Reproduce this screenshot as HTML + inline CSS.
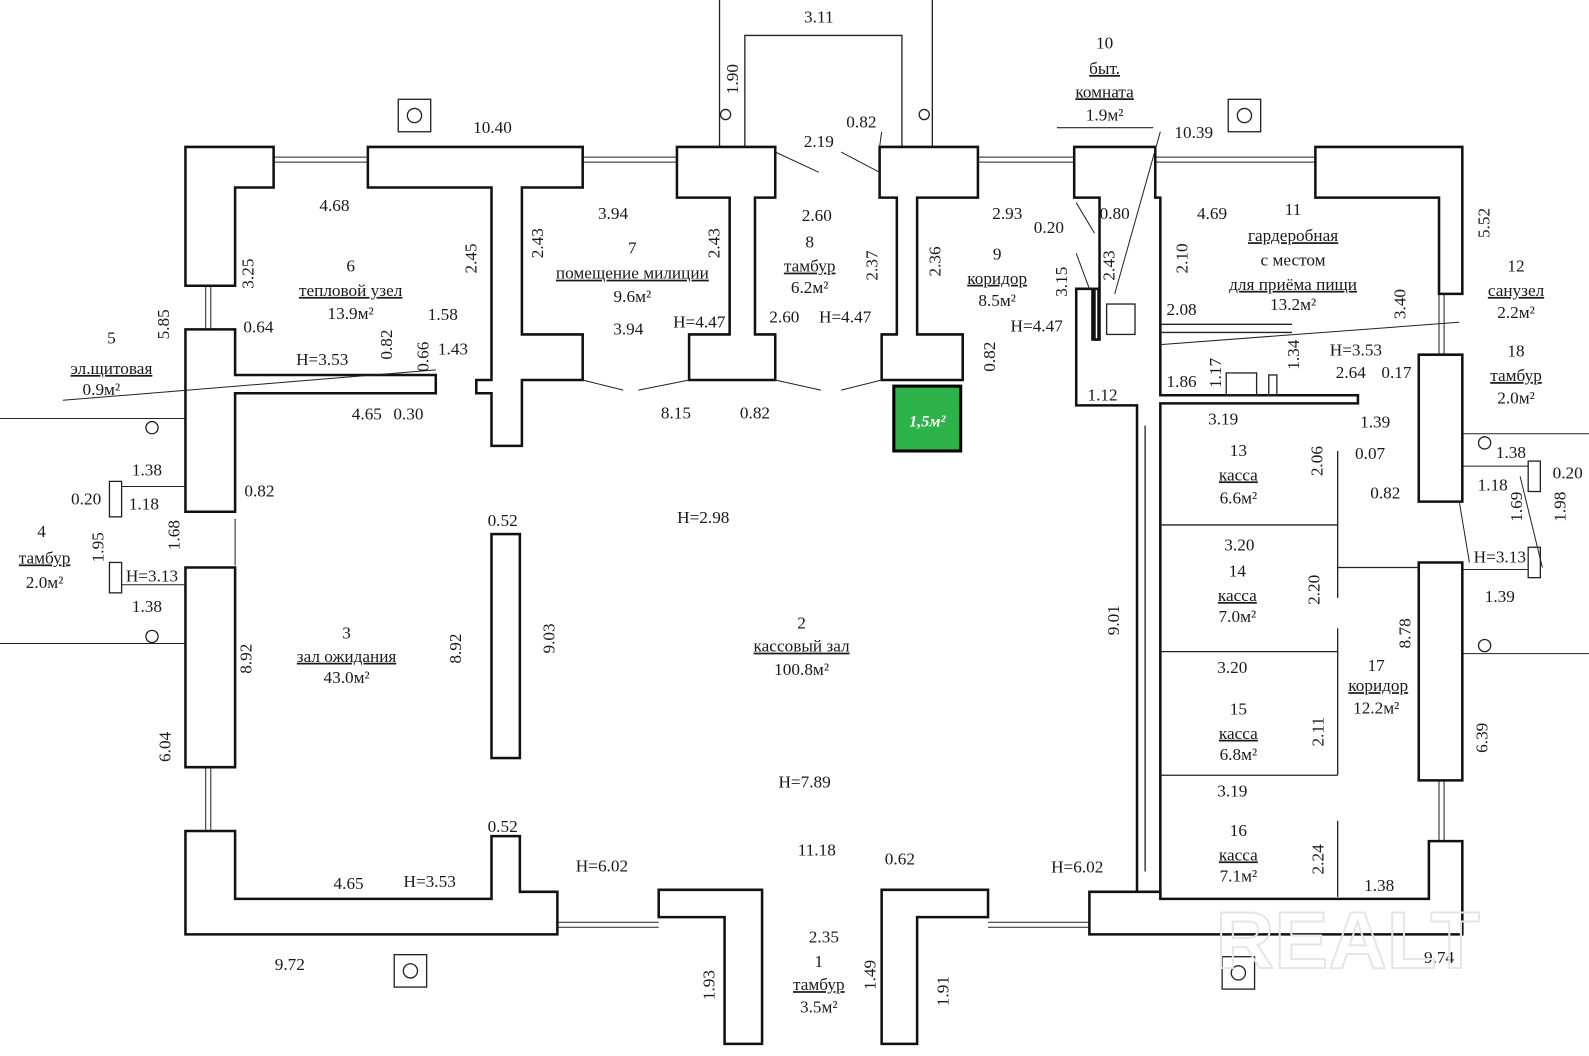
<!DOCTYPE html>
<html><head><meta charset="utf-8"><style>
html,body{margin:0;padding:0;background:#fff;}
svg{display:block;}
text{font-family:"Liberation Serif",serif;font-size:17px;fill:#1a1a1a;}
.m{text-anchor:middle;}
.u{text-decoration:underline;}
.w{fill:#fff;stroke:#111;stroke-width:2.5;stroke-linejoin:miter;}
.l{stroke:#222;stroke-width:1.3;fill:none;}
.t{stroke:#222;stroke-width:1;fill:none;}
</style></head><body>
<svg width="1589" height="1056" viewBox="0 0 1568 1042" preserveAspectRatio="none" xmlns="http://www.w3.org/2000/svg">
<rect width="1568" height="1042" fill="#fff"/>
<line class="t" x1="0" y1="413" x2="183" y2="413"/><line class="t" x1="0" y1="635" x2="183" y2="635"/>
<line class="t" x1="1443" y1="428" x2="1568" y2="428"/><line class="t" x1="1443" y1="645" x2="1568" y2="645"/>
<circle class="l" cx="150" cy="422" r="6"/><circle class="l" cx="150" cy="628" r="6"/>
<circle class="l" cx="1465" cy="437" r="6"/><circle class="l" cx="1465" cy="637" r="6"/>
<line class="l" x1="710" y1="0" x2="710" y2="145"/><line class="l" x1="920" y1="0" x2="920" y2="145"/>
<polyline class="l" points="735,145 735,35 890,35 890,145"/>
<circle class="l" cx="716" cy="113" r="5"/><circle class="l" cx="912" cy="113" r="5"/>
<g class="t">
<line x1="270" y1="155" x2="363" y2="155"/><line x1="270" y1="160" x2="363" y2="160"/>
<line x1="575" y1="155" x2="668" y2="155"/><line x1="575" y1="160" x2="668" y2="160"/>
<line x1="965" y1="155" x2="1060" y2="155"/><line x1="965" y1="160" x2="1060" y2="160"/>
<line x1="1140" y1="155" x2="1298" y2="155"/><line x1="1140" y1="160" x2="1298" y2="160"/>
<line x1="550" y1="915" x2="650" y2="915"/><line x1="550" y1="910" x2="650" y2="910"/>
<line x1="975" y1="915" x2="1075" y2="915"/><line x1="975" y1="910" x2="1075" y2="910"/>
<line x1="203" y1="282" x2="203" y2="325"/><line x1="208" y1="282" x2="208" y2="325"/>
<line x1="203" y1="757" x2="203" y2="820"/><line x1="208" y1="757" x2="208" y2="820"/>
<line x1="1420" y1="290" x2="1420" y2="350"/><line x1="1425" y1="290" x2="1425" y2="350"/>
<line x1="1420" y1="770" x2="1420" y2="830"/><line x1="1425" y1="770" x2="1425" y2="830"/>
<line x1="1440" y1="495" x2="1450" y2="555"/>
</g>
<polygon class="w" points="183,145 270,145 270,185 232,185 232,282 183,282"/>
<polygon class="w" points="183,325 232,325 232,370 430,370 430,388 232,388 232,505 183,505"/>
<polygon class="w" points="183,560 232,560 232,757 183,757"/>
<polygon class="w" points="183,820 232,820 232,887 485,887 485,825 513,825 513,880 550,880 550,922 183,922"/>
<polygon class="w" points="363,145 575,145 575,185 515,185 515,330 575,330 575,375 515,375 515,440 485,440 485,388 470,388 470,375 485,375 485,185 363,185"/>
<polygon class="w" points="668,145 765,145 765,195 745,195 745,330 765,330 765,375 680,375 680,330 720,330 720,195 668,195"/>
<polygon class="w" points="868,145 965,145 965,195 905,195 905,330 950,330 950,375 870,375 870,330 885,330 885,195 868,195"/>
<polygon class="w" points="1060,145 1140,145 1140,195 1145,195 1145,390 1340,390 1340,398 1145,398 1145,885 1122,885 1122,400 1062,400 1062,285 1078,285 1078,335 1085,335 1085,195 1060,195"/>
<polygon class="w" points="1298,145 1443,145 1443,290 1420,290 1420,195 1298,195"/>
<polygon class="w" points="1400,350 1443,350 1443,495 1400,495"/>
<polygon class="w" points="1400,555 1443,555 1443,770 1400,770"/>
<polygon class="w" points="1075,880 1145,880 1145,887 1410,887 1410,830 1443,830 1443,922 1075,922"/>
<polygon class="w" points="650,878 752,878 752,1030 715,1030 715,905 650,905"/>
<polygon class="w" points="870,878 975,878 975,905 905,905 905,1030 870,1030"/>
<rect class="w" x="485" y="527" width="28" height="221"/>
<rect class="w" x="1080" y="285" width="4" height="50"/>
<g class="l" stroke-width="2">
<line x1="1145" y1="518" x2="1320" y2="518"/><line x1="1145" y1="643" x2="1320" y2="643"/><line x1="1145" y1="765" x2="1320" y2="765"/>
<line x1="1320" y1="445" x2="1320" y2="590"/><line x1="1320" y1="620" x2="1320" y2="765"/><line x1="1320" y1="810" x2="1320" y2="885"/>
<line x1="1320" y1="560" x2="1400" y2="560"/>
<line x1="1130" y1="420" x2="1130" y2="860"/>
</g>
<rect class="l" x="1210" y="368" width="30" height="22"/><rect class="l" x="1252" y="370" width="8" height="20"/>
<rect class="l" x="1092" y="300" width="28" height="30"/>
<line class="l" x1="1145" y1="320" x2="1275" y2="320"/><line class="l" x1="1145" y1="328" x2="1275" y2="328"/>
<rect class="l" x="108" y="475" width="12" height="35"/><rect class="l" x="108" y="555" width="12" height="30"/>
<rect class="l" x="1508" y="455" width="12" height="30"/><rect class="l" x="1508" y="540" width="12" height="30"/>
<line class="t" x1="120" y1="480" x2="183" y2="480"/><line class="t" x1="120" y1="577" x2="183" y2="577"/>
<line class="t" x1="1443" y1="460" x2="1508" y2="460"/><line class="t" x1="1443" y1="562" x2="1508" y2="562"/>
<g class="l" stroke-width="2"><rect x="393" y="98" width="32" height="32"/><circle cx="409" cy="114" r="7"/>
<rect x="1212" y="98" width="32" height="32"/><circle cx="1228" cy="114" r="7"/>
<rect x="389" y="942" width="32" height="32"/><circle cx="405" cy="958" r="7"/>
<rect x="1206" y="944" width="32" height="32"/><circle cx="1222" cy="960" r="7"/></g>
<g class="t">
<line x1="62" y1="395" x2="430" y2="365"/><line x1="1145" y1="340" x2="1440" y2="318"/>
<line x1="1145" y1="130" x2="1100" y2="290"/><line x1="575" y1="375" x2="615" y2="385"/><line x1="630" y1="385" x2="680" y2="375"/>
<line x1="765" y1="150" x2="808" y2="170"/><line x1="830" y1="150" x2="868" y2="170"/>
<line x1="765" y1="375" x2="810" y2="385"/><line x1="830" y1="385" x2="870" y2="375"/>
<line x1="1062" y1="200" x2="1080" y2="230"/><line x1="1062" y1="250" x2="1075" y2="285"/>
<line x1="232" y1="512" x2="232" y2="558"/><line x1="1500" y1="470" x2="1522" y2="560"/>
<line x1="870" y1="130" x2="868" y2="145"/>
</g>
<line class="t" x1="1043" y1="126" x2="1138" y2="126"/>
<rect x="882" y="381" width="66" height="64" fill="#2db34a" stroke="#000" stroke-width="3"/>
<text x="915" y="421" class="m" style="font-style:italic;font-weight:bold;fill:#fff;font-size:16px">1,5м²</text>
<g>
<text x="808" y="22" class="m">3.11</text>
<text x="486" y="131" class="m">10.40</text>
<text x="850" y="126" class="m">0.82</text>
<text x="808" y="145" class="m">2.19</text>
<text x="1090" y="48" class="m">10</text><text x="1090" y="73" class="m u">быт.</text><text x="1090" y="96" class="m u">комната</text><text x="1090" y="119" class="m">1.9м²</text>
<text x="1178" y="136" class="m">10.39</text>
<text x="330" y="208" class="m">4.68</text>
<text x="605" y="216" class="m">3.94</text>
<text x="806" y="218" class="m">2.60</text>
<text x="994" y="216" class="m">2.93</text>
<text x="1035" y="230" class="m">0.20</text><text x="1100" y="216" class="m">0.80</text>
<text x="1196" y="216" class="m">4.69</text><text x="1276" y="212" class="m">11</text>
<text x="1276" y="238" class="m u">гардеробная</text><text x="1276" y="262" class="m">с местом</text><text x="1276" y="286" class="m u">для приёма пищи</text><text x="1276" y="306" class="m">13.2м²</text>
<text x="346" y="268" class="m">6</text><text x="346" y="292" class="m u">тепловой узел</text><text x="346" y="315" class="m">13.9м²</text>
<text x="624" y="250" class="m">7</text><text x="624" y="275" class="m u">помещение милиции</text><text x="624" y="298" class="m">9.6м²</text>
<text x="799" y="244" class="m">8</text><text x="799" y="268" class="m u">тамбур</text><text x="799" y="289" class="m">6.2м²</text>
<text x="984" y="256" class="m">9</text><text x="984" y="280" class="m u">коридор</text><text x="984" y="302" class="m">8.5м²</text>
<text x="1496" y="268" class="m">12</text><text x="1496" y="292" class="m u">санузел</text><text x="1496" y="314" class="m">2.2м²</text>
<text x="1496" y="352" class="m">18</text><text x="1496" y="376" class="m u">тамбур</text><text x="1496" y="398" class="m">2.0м²</text>
<text x="255" y="328" class="m">0.64</text><text x="437" y="316" class="m">1.58</text><text x="447" y="350" class="m">1.43</text>
<text x="318" y="360" class="m">H=3.53</text>
<text x="110" y="339" class="m">5</text><text x="110" y="369" class="m u">эл.щитовая</text><text x="100" y="390" class="m">0.9м²</text>
<text x="362" y="414" class="m">4.65</text><text x="403" y="414" class="m">0.30</text>
<text x="620" y="330" class="m">3.94</text><text x="690" y="323" class="m">H=4.47</text>
<text x="774" y="318" class="m">2.60</text><text x="834" y="318" class="m">H=4.47</text>
<text x="1023" y="327" class="m">H=4.47</text>
<text x="1166" y="311" class="m">2.08</text><text x="1166" y="382" class="m">1.86</text>
<text x="1338" y="351" class="m">H=3.53</text><text x="1333" y="373" class="m">2.64</text><text x="1378" y="373" class="m">0.17</text>
<text x="1088" y="395" class="m">1.12</text>
<text x="667" y="413" class="m">8.15</text><text x="745" y="413" class="m">0.82</text>
<text x="1207" y="419" class="m">3.19</text><text x="1357" y="422" class="m">1.39</text>
<text x="1222" y="450" class="m">13</text><text x="1222" y="474" class="m u">касса</text><text x="1222" y="497" class="m">6.6м²</text>
<text x="1352" y="453" class="m">0.07</text><text x="1367" y="492" class="m">0.82</text>
<text x="1491" y="452" class="m">1.38</text><text x="1473" y="484" class="m">1.18</text><text x="1547" y="472" class="m">0.20</text>
<text x="145" y="469" class="m">1.38</text><text x="85" y="498" class="m">0.20</text><text x="142" y="503" class="m">1.18</text>
<text x="256" y="490" class="m">0.82</text>
<text x="496" y="519" class="m">0.52</text>
<text x="694" y="516" class="m">H=2.98</text>
<text x="1223" y="543" class="m">3.20</text>
<text x="1221" y="569" class="m">14</text><text x="1221" y="593" class="m u">касса</text><text x="1221" y="614" class="m">7.0м²</text>
<text x="1480" y="555" class="m">H=3.13</text><text x="1480" y="594" class="m">1.39</text>
<text x="41" y="530" class="m">4</text><text x="44" y="556" class="m u">тамбур</text><text x="44" y="580" class="m">2.0м²</text>
<text x="150" y="574" class="m">H=3.13</text><text x="145" y="604" class="m">1.38</text>
<text x="342" y="630" class="m">3</text><text x="342" y="653" class="m u">зал ожидания</text><text x="342" y="674" class="m">43.0м²</text>
<text x="791" y="620" class="m">2</text><text x="791" y="643" class="m u">кассовый зал</text><text x="791" y="666" class="m">100.8м²</text>
<text x="1216" y="664" class="m">3.20</text>
<text x="1358" y="662" class="m">17</text><text x="1360" y="682" class="m u">коридор</text><text x="1358" y="704" class="m">12.2м²</text>
<text x="1222" y="705" class="m">15</text><text x="1222" y="729" class="m u">касса</text><text x="1222" y="750" class="m">6.8м²</text>
<text x="794" y="777" class="m">H=7.89</text>
<text x="1216" y="786" class="m">3.19</text>
<text x="496" y="821" class="m">0.52</text>
<text x="806" y="844" class="m">11.18</text><text x="888" y="853" class="m">0.62</text>
<text x="1222" y="825" class="m">16</text><text x="1222" y="849" class="m u">касса</text><text x="1222" y="870" class="m">7.1м²</text>
<text x="594" y="860" class="m">H=6.02</text><text x="1063" y="861" class="m">H=6.02</text>
<text x="344" y="877" class="m">4.65</text><text x="424" y="875" class="m">H=3.53</text>
<text x="1361" y="879" class="m">1.38</text>
<text x="813" y="930" class="m">2.35</text><text x="808" y="954" class="m">1</text><text x="808" y="977" class="m u">тамбур</text><text x="808" y="999" class="m">3.5м²</text>
<text x="286" y="957" class="m">9.72</text><text x="1420" y="950" class="m">9.74</text>
</g>
<g>
<text class="m" transform="translate(728,78) rotate(-90)">1.90</text>
<text class="m" transform="translate(250,270) rotate(-90)">3.25</text>
<text class="m" transform="translate(470,255) rotate(-90)">2.45</text>
<text class="m" transform="translate(536,240) rotate(-90)">2.43</text>
<text class="m" transform="translate(710,240) rotate(-90)">2.43</text>
<text class="m" transform="translate(866,262) rotate(-90)">2.37</text>
<text class="m" transform="translate(928,258) rotate(-90)">2.36</text>
<text class="m" transform="translate(1053,278) rotate(-90)">3.15</text>
<text class="m" transform="translate(1100,262) rotate(-90)">2.43</text>
<text class="m" transform="translate(1172,255) rotate(-90)">2.10</text>
<text class="m" transform="translate(1387,300) rotate(-90)">3.40</text>
<text class="m" transform="translate(1470,220) rotate(-90)">5.52</text>
<text class="m" transform="translate(167,320) rotate(-90)">5.85</text>
<text class="m" transform="translate(387,340) rotate(-90)">0.82</text>
<text class="m" transform="translate(423,352) rotate(-90)">0.66</text>
<text class="m" transform="translate(982,352) rotate(-90)">0.82</text>
<text class="m" transform="translate(1282,350) rotate(-90)">1.34</text>
<text class="m" transform="translate(1205,368) rotate(-90)">1.17</text>
<text class="m" transform="translate(1305,455) rotate(-90)">2.06</text>
<text class="m" transform="translate(102,540) rotate(-90)">1.95</text>
<text class="m" transform="translate(177,528) rotate(-90)">1.68</text>
<text class="m" transform="translate(1502,500) rotate(-90)">1.69</text>
<text class="m" transform="translate(1545,500) rotate(-90)">1.98</text>
<text class="m" transform="translate(1302,582) rotate(-90)">2.20</text>
<text class="m" transform="translate(248,650) rotate(-90)">8.92</text>
<text class="m" transform="translate(455,640) rotate(-90)">8.92</text>
<text class="m" transform="translate(547,630) rotate(-90)">9.03</text>
<text class="m" transform="translate(1104,612) rotate(-90)">9.01</text>
<text class="m" transform="translate(1392,625) rotate(-90)">8.78</text>
<text class="m" transform="translate(1306,722) rotate(-90)">2.11</text>
<text class="m" transform="translate(168,737) rotate(-90)">6.04</text>
<text class="m" transform="translate(1468,728) rotate(-90)">6.39</text>
<text class="m" transform="translate(1306,848) rotate(-90)">2.24</text>
<text class="m" transform="translate(705,972) rotate(-90)">1.93</text>
<text class="m" transform="translate(864,962) rotate(-90)">1.49</text>
<text class="m" transform="translate(936,978) rotate(-90)">1.91</text>
</g>
<text x="1330" y="955" class="m" style="font-family:'Liberation Sans',sans-serif;font-size:80px;font-weight:bold;fill:none;stroke:#e6e6e6;stroke-width:2">REALT</text>
</svg>
</body></html>
